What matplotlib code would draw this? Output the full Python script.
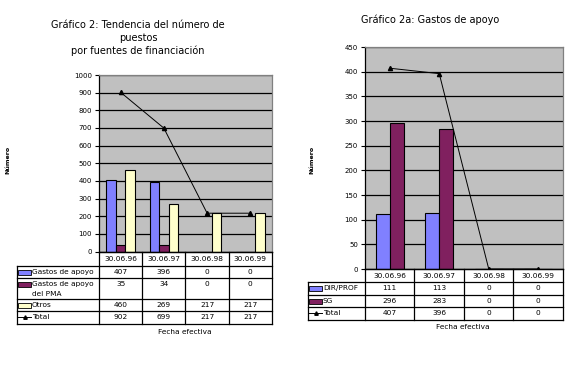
import numpy as np
import matplotlib
matplotlib.use("Agg")
import matplotlib.pyplot as plt
from matplotlib.lines import Line2D
from matplotlib.patches import Rectangle
from matplotlib.transforms import Affine2D

## DATA
fechas = ["30.06.96", "30.06.97", "30.06.98", "30.06.99"]

gastos_apoyo = [407, 396, 0, 0]
gastos_pma = [35, 34, 0, 0]
otros = [460, 269, 217, 217]
total_izq = [902, 699, 217, 217]

dir_prof = [111, 113, 0, 0]
sg = [296, 283, 0, 0]
total_der = [407, 396, 0, 0]

BLUE = "#8080ff"
PURPLE = "#80205f"
YELLOW = "#ffffcc"
GRAY = "#c0c0c0"

W, H = 569, 372
fig = plt.figure(figsize=(W / 100, H / 100), dpi=100)
fig.patch.set_facecolor("white")
# pixel coords, y down
px = Affine2D().scale(1 / W, -1 / H).translate(0, 1) + fig.transFigure


def add_plot(x0, y0, x1, y1):
    return fig.add_axes([x0 / W, 1 - y1 / H, (x1 - x0) / W, (y1 - y0) / H])


def hline(y, x0, x1):
    fig.add_artist(Line2D([x0, x1], [y, y], color="black", lw=0.9, transform=px))


def vline(x, y0, y1):
    fig.add_artist(Line2D([x, x], [y0, y1], color="black", lw=0.9, transform=px))


def txt(x, y, s, **kw):
    kw.setdefault("fontsize", 5.3)
    kw.setdefault("va", "center")
    fig.text(x, y, s, transform=px, **kw)


def style_axes(ax, ymax, step):
    ax.set_facecolor(GRAY)
    ax.set_xlim(0, 4)
    ax.set_ylim(0, ymax)
    ax.set_yticks(np.arange(0, ymax + 1, step))
    ax.tick_params(axis="y", labelsize=5, length=3, width=0.8, pad=2)
    ax.set_xticks([])
    ax.grid(axis="y", color="black", lw=0.9)
    ax.set_axisbelow(True)
    for s in ax.spines.values():
        s.set_linewidth(0.9)
    ax.spines["top"].set_color("#808080")
    ax.spines["right"].set_color("#808080")


def draw_table(x_leg, x0, x1, y_top, row_bounds, series, colors, kinds):
    cw = (x1 - x0) / 4
    hline(y_top, x0, x1)
    hline(row_bounds[0], x_leg, x1)
    for i in range(5):
        vline(x0 + i * cw, y_top, row_bounds[-1])
    vline(x_leg, row_bounds[0], row_bounds[-1])
    for i, f in enumerate(fechas):
        txt(x0 + (i + 0.5) * cw, (y_top + row_bounds[0]) / 2, f, ha="center")
    for r, (name, vals) in enumerate(series):
        ya, yb = row_bounds[r], row_bounds[r + 1]
        hline(yb, x_leg, x1)
        yl = ya + 6
        if kinds[r] == "bar":
            fig.add_artist(Rectangle((x_leg + 1, yl - 2.5), 13, 5, facecolor=colors[r],
                                     edgecolor="black", lw=0.6, transform=px))
        else:
            fig.add_artist(Line2D([x_leg + 1, x_leg + 8, x_leg + 14], [yl, yl, yl],
                                  color="black", lw=0.7, marker="^", markevery=[1],
                                  markersize=2.5, transform=px))
        lines = name.split("\n")
        for j, ln in enumerate(lines):
            txt(x_leg + 15, yl + j * 10, ln, ha="left")
        for i, v in enumerate(vals):
            txt(x0 + (i + 0.5) * cw, yl, str(v), ha="center")


## LEFT CHART
ax1 = add_plot(99, 75, 272, 251.5)
style_axes(ax1, 1000, 100)
x = np.arange(4) + 0.5
bw = 0.22
for k, (vals, c) in enumerate(zip([gastos_apoyo, gastos_pma, otros], [BLUE, PURPLE, YELLOW])):
    ax1.bar(x + (k - 1) * bw, vals, bw, color=c, edgecolor="black", lw=0.8)
ax1.plot(x, total_izq, color="black", lw=0.7, marker="^", markersize=3)

txt(138, 25, "Gráfico 2: Tendencia del número de", ha="center", fontsize=7)
txt(138, 38, "puestos", ha="center", fontsize=7)
txt(138, 51, "por fuentes de financiación", ha="center", fontsize=7)
txt(8, 160, "Número", ha="center", rotation=90, fontsize=4.5, fontweight="bold")

draw_table(17, 99, 272, 251.5, [266, 278, 299, 311, 324],
           [("Gastos de apoyo", gastos_apoyo), ("Gastos de apoyo\ndel PMA", gastos_pma),
            ("Otros", otros), ("Total", total_izq)],
           [BLUE, PURPLE, YELLOW, None], ["bar", "bar", "bar", "line"])
txt(185, 332, "Fecha efectiva", ha="center")

## RIGHT CHART
ax2 = add_plot(365, 47, 563, 269)
style_axes(ax2, 450, 50)
bw2 = 0.28
for k, (vals, c) in enumerate(zip([dir_prof, sg], [BLUE, PURPLE])):
    ax2.bar(x + (k - 0.5) * bw2, vals, bw2, color=c, edgecolor="black", lw=0.8)
ax2.plot(x, total_der, color="black", lw=0.7, marker="^", markersize=3)

txt(430, 20, "Gráfico 2a: Gastos de apoyo", ha="center", fontsize=7)
txt(312, 160, "Número", ha="center", rotation=90, fontsize=4.5, fontweight="bold")

draw_table(308, 365, 563, 269, [282, 295, 307, 320],
           [("DIR/PROF", dir_prof), ("SG", sg), ("Total", total_der)],
           [BLUE, PURPLE, None], ["bar", "bar", "line"])
txt(463, 327, "Fecha efectiva", ha="center")

fig.savefig("out.png", dpi=100)
